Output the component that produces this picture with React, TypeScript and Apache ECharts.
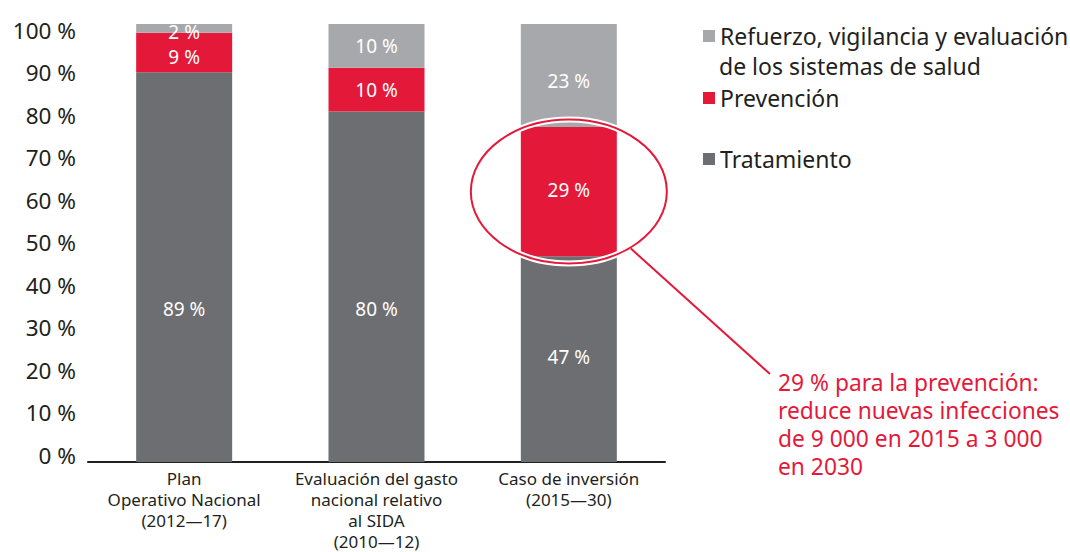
import React, { useEffect, useRef } from "react";
import * as echarts from "echarts";

const categories = [
  "Plan\nOperativo Nacional\n(2012—17)",
  "Evaluación del gasto\nnacional relativo\nal SIDA\n(2010—12)",
  "Caso de inversión\n(2015—30)",
];
const seriesNames = [
  "Refuerzo, vigilancia y evaluación de los sistemas de salud",
  "Prevención",
  "Tratamiento",
];
const tratamiento = [89, 80, 47];
const prevencion = [9, 10, 29.5];
const refuerzo = [2, 10, 23.5];
const tratamientoLabels = ["89 %", "80 %", "47 %"];
const prevencionLabels = ["9 %", "10 %", "29 %"];
const refuerzoLabels = ["2 %", "10 %", "23 %"];
const yTicks = [0, 10, 20, 30, 40, 50, 60, 70, 80, 90, 100];
const annotationLines = [
  "29 % para la prevención:",
  "reduce nuevas infecciones",
  "de 9 000 en 2015 a 3 000",
  "en 2030",
];

const FONT = "'Noto Sans', 'Open Sans', sans-serif";
const DARK = "#231f20";
const RED = "#e4193a";
const LIGHT = "#a7a8ab";
const GREY = "#6d6e71";

export default function App() {
  const ref = useRef<HTMLDivElement>(null);
  useEffect(() => {
    if (!ref.current) return;
    const chart = echarts.init(ref.current, undefined, { renderer: "svg" });
    const tratOffsets = [[0, 42], [0, 22], [0, -2]];
    const prevOffsets = [[0, 5], [0, 0], [0, -2]];
    const refOffsets = [[0, 4], [0, 0], [0, 6]];
    const mk = (vals: number[], labels: string[], offs: number[][]) =>
      vals.map((v, i) => ({
        value: v,
        label: { offset: offs[i], formatter: labels[i] },
      }));
    const barLabel = {
      show: true,
      position: "inside",
      color: "#ffffff",
      fontSize: 19,
      fontFamily: FONT,
    };
    const legendBase = {
      left: 698,
      orient: "vertical",
      icon: "rect",
      itemWidth: 12,
      itemHeight: 12,
      selectedMode: false,
      textStyle: { fontSize: 23, color: DARK, fontFamily: FONT, lineHeight: 24 },
    };
    const yMin = yTicks[0];
    const yMax = yTicks[yTicks.length - 1];
    chart.setOption({
      animation: false,
      textStyle: { fontFamily: FONT },
      grid: [
        { left: 88, right: 405, top: 24, bottom: 90 },
        { left: 88, right: 405, top: 30, bottom: 97 },
      ],
      legend: [
        {
          ...legendBase,
          top: 19,
          data: [seriesNames[0]],
          formatter: () => "Refuerzo, vigilancia y evaluación",
        },
        { ...legendBase, top: 81, data: [seriesNames[1]] },
        { ...legendBase, top: 142, data: [seriesNames[2]] },
      ],
      xAxis: [
        {
          type: "category",
          gridIndex: 0,
          data: categories,
          axisLine: { show: true, lineStyle: { color: DARK, width: 2 } },
          axisTick: { show: false },
          axisLabel: {
            interval: 0,
            fontSize: 17,
            lineHeight: 21,
            color: DARK,
            margin: 6,
            fontFamily: FONT,
          },
        },
        { type: "category", gridIndex: 1, data: categories, show: false },
      ],
      yAxis: [
        {
          type: "value",
          gridIndex: 0,
          min: yMin,
          max: yMax,
          interval: 10,
          splitLine: { show: false },
          axisLine: { show: false },
          axisTick: { show: false },
          axisLabel: { show: false },
        },
        {
          type: "value",
          gridIndex: 1,
          min: yMin,
          max: yMax,
          interval: 10,
          splitLine: { show: false },
          axisLine: { show: false },
          axisTick: { show: false },
          axisLabel: {
            formatter: "{value} %",
            fontSize: 22.5,
            color: DARK,
            margin: 12,
            fontFamily: FONT,
          },
        },
      ],
      series: [
        {
          name: seriesNames[2],
          type: "bar",
          stack: "total",
          barWidth: 96,
          itemStyle: { color: GREY },
          label: barLabel,
          data: mk(tratamiento, tratamientoLabels, tratOffsets),
        },
        {
          name: seriesNames[1],
          type: "bar",
          stack: "total",
          barWidth: 96,
          itemStyle: { color: RED },
          label: barLabel,
          data: mk(prevencion, prevencionLabels, prevOffsets),
        },
        {
          name: seriesNames[0],
          type: "bar",
          stack: "total",
          barWidth: 96,
          itemStyle: { color: LIGHT },
          label: barLabel,
          data: mk(refuerzo, refuerzoLabels, refOffsets),
        },
      ],
    });

    const c = chart.convertToPixel({ xAxisIndex: 0, yAxisIndex: 0 }, [
      2,
      tratamiento[2] + prevencion[2] / 2,
    ]) as number[];
    const cx = c[0];
    const cy = c[1];
    const rx = 98;
    const ry = 72;
    chart.setOption({
      graphic: [
        {
          type: "ellipse",
          shape: { cx, cy, rx, ry },
          style: { fill: "none", stroke: "#ffffff", lineWidth: 6 },
          z: 100,
        },
        {
          type: "ellipse",
          shape: { cx, cy, rx, ry },
          style: { fill: "none", stroke: RED, lineWidth: 2 },
          z: 101,
        },
        {
          type: "line",
          shape: { x1: cx + 62, y1: cy + 57, x2: 770, y2: 374 },
          style: { stroke: RED, lineWidth: 2 },
          z: 101,
        },
        {
          type: "text",
          left: 778,
          top: 368,
          style: {
            text: annotationLines.join("\n"),
            fill: RED,
            fontSize: 22.8,
            lineHeight: 28,
            fontFamily: FONT,
          },
          z: 101,
        },
        {
          type: "text",
          left: 719,
          top: 54,
          style: {
            text: "de los sistemas de salud",
            fill: DARK,
            fontSize: 23,
            lineHeight: 24,
            fontFamily: FONT,
          },
        },
      ],
    });
    return () => chart.dispose();
  }, []);
  return (
    <div
      ref={ref}
      style={{ position: "fixed", left: 0, top: 0, width: 1070, height: 552, background: "#fff" }}
    />
  );
}
